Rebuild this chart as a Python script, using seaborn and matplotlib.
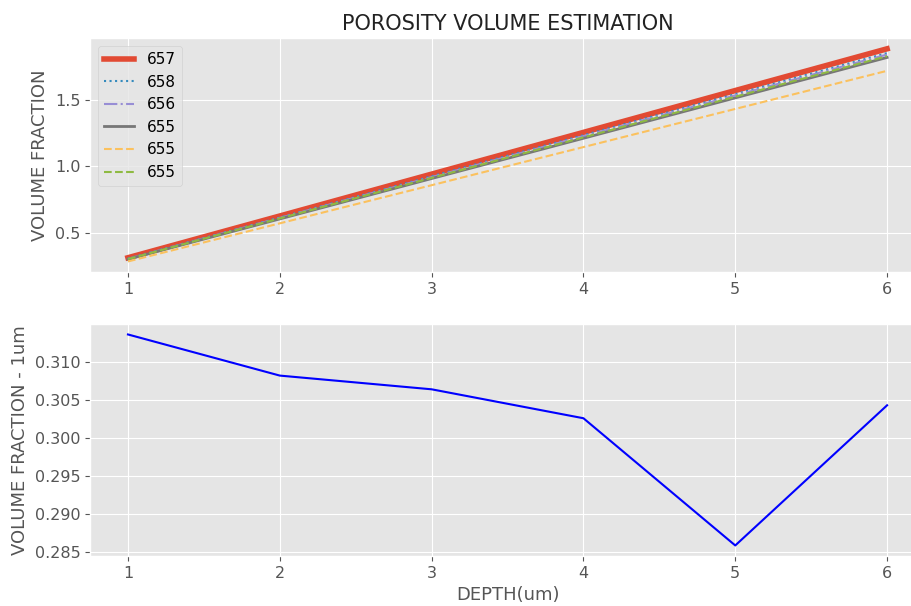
import matplotlib
matplotlib.use("Agg")
import matplotlib.pyplot as plt
import seaborn as sns

plt.style.use("ggplot")

depth = [1, 2, 3, 4, 5, 6]

# top panel: cumulative volume fraction per sample
vf_657 = [0.314, 0.627, 0.941, 1.254, 1.568, 1.881]
vf_658 = [0.308, 0.616, 0.925, 1.233, 1.541, 1.849]
vf_656 = [0.306, 0.613, 0.919, 1.226, 1.532, 1.838]
vf_655a = [0.303, 0.605, 0.908, 1.210, 1.513, 1.816]
vf_655b = [0.286, 0.572, 0.858, 1.144, 1.430, 1.716]
vf_655c = [0.304, 0.609, 0.913, 1.217, 1.522, 1.826]
labels = ["657", "658", "656", "655", "655", "655"]

# bottom panel: volume fraction per 1um slice
vf_1um = [0.3136, 0.3082, 0.3064, 0.3026, 0.2859, 0.3043]

fig = plt.figure(figsize=(9.12, 6.06), dpi=100)
ax1 = fig.add_axes([0.0987, 0.551, 0.9156, 0.386])
ax2 = fig.add_axes([0.0987, 0.0825, 0.9156, 0.383])

series = [vf_657, vf_658, vf_656, vf_655a, vf_655b, vf_655c]
colors = ["#E24A33", "#348ABD", "#988ED5", "#777777", "#FBC15E", "#8EBA42"]
styles = ["-", ":", "-.", "-", "--", "--"]
widths = [4, 1.5, 1.5, 2, 1.5, 1.5]
for vals, lab, c, ls, lw in zip(series, labels, colors, styles, widths):
    sns.lineplot(x=depth, y=vals, ax=ax1, label=lab, color=c, linestyle=ls, linewidth=lw)

ax1.set_title("POROSITY VOLUME ESTIMATION", fontsize=15, color="#222222")
ax1.set_ylabel("VOLUME FRACTION", fontsize=13, color="#555555")
ax1.set_yticks([0.5, 1.0, 1.5])
ax1.legend(loc="upper left", fontsize=11)

sns.lineplot(x=depth, y=vf_1um, ax=ax2, color="blue", linewidth=1.5)
ax2.set_ylabel("VOLUME FRACTION - 1um", fontsize=13, color="#555555")
ax2.set_xlabel("DEPTH(um)", fontsize=13, color="#555555")

for ax in (ax1, ax2):
    ax.tick_params(labelsize=11.5)

fig.savefig("out.png", dpi=100)
